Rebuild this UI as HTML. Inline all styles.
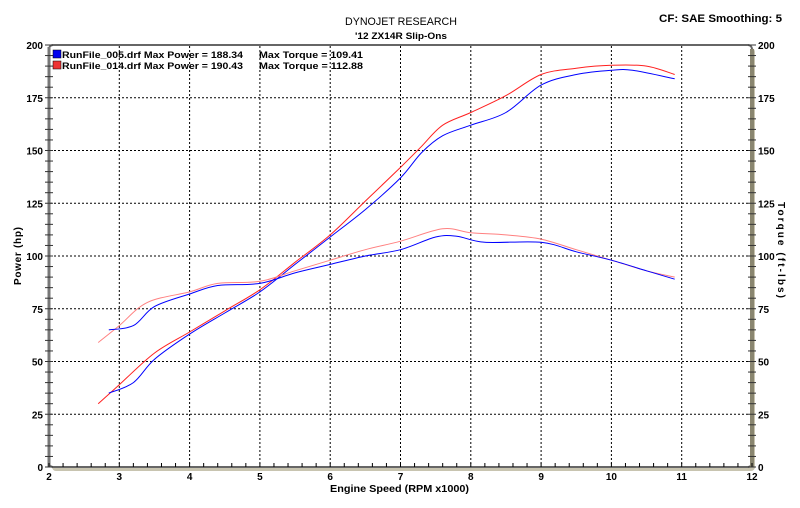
<!DOCTYPE html>
<html><head><meta charset="utf-8"><style>
body{margin:0;background:#fff;width:800px;height:503px;overflow:hidden}
svg text{font-family:"Liberation Sans","DejaVu Sans",sans-serif}
</style></head><body>
<svg id="s" width="800" height="503" xmlns="http://www.w3.org/2000/svg">
<text x="345" y="25" font-size="11" textLength="112" lengthAdjust="spacingAndGlyphs">DYNOJET RESEARCH</text>
<text x="355" y="39" font-size="9.5" font-weight="bold" textLength="92" lengthAdjust="spacingAndGlyphs">'12 ZX14R Slip-Ons</text>
<text x="659" y="22" font-size="11" font-weight="bold" textLength="123" lengthAdjust="spacingAndGlyphs">CF: SAE  Smoothing: 5</text>
<rect x="52" y="48" width="703" height="423" rx="4" fill="#c8c4b0"/>
<rect x="49" y="45" width="703" height="422" rx="4" fill="#fff" stroke="#666" stroke-width="2"/>
<g id="g"></g>
<rect x="53" y="50" width="8" height="8" fill="#0000ee" stroke="#000" stroke-width="0.5"/>
<rect x="53" y="61" width="8" height="8" fill="#ee3333" stroke="#000" stroke-width="0.5"/>
<text x="62" y="58" font-size="9.5" font-weight="bold" textLength="181" lengthAdjust="spacingAndGlyphs">RunFile_005.drf Max Power = 188.34</text>
<text x="259" y="58" font-size="9.5" font-weight="bold" textLength="104" lengthAdjust="spacingAndGlyphs">Max Torque = 109.41</text>
<text x="62" y="69" font-size="9.5" font-weight="bold" textLength="181" lengthAdjust="spacingAndGlyphs">RunFile_014.drf Max Power = 190.43</text>
<text x="259" y="69" font-size="9.5" font-weight="bold" textLength="104" lengthAdjust="spacingAndGlyphs">Max Torque = 112.88</text>
<text x="330" y="492" font-size="10" font-weight="bold" textLength="139" lengthAdjust="spacingAndGlyphs">Engine Speed (RPM x1000)</text>
<text transform="translate(21,285) rotate(-90)" font-size="10" font-weight="bold" textLength="58" lengthAdjust="spacing">Power (hp)</text>
<text transform="translate(778,202) rotate(90)" font-size="10" font-weight="bold" textLength="96" lengthAdjust="spacing">Torque (ft-lbs)</text>
</svg>
<script>
var g=document.getElementById('g'),h='';
function X(r){return 49+70.3*(r-2)}function Y(v){return 467-2.11*v}
for(var i=3;i<12;i++)h+='<line x1="'+X(i)+'" y1="46" x2="'+X(i)+'" y2="466" stroke="#000" stroke-width="1" stroke-dasharray="2,2"/>';
for(var v=25;v<200;v+=25)h+='<line x1="50" y1="'+Y(v)+'" x2="751" y2="'+Y(v)+'" stroke="#000" stroke-width="1" stroke-dasharray="2,2"/>';
h+='<line x1="49" y1="47" x2="49" y2="467" stroke="#777" stroke-width="3"/><line x1="752" y1="49" x2="752" y2="467" stroke="#8a8670" stroke-width="4"/>';
for(var i=2;i<=12;i+=0.2){var x=X(i);h+='<line x1="'+x+'" y1="463" x2="'+x+'" y2="467" stroke="#000"/>';}
for(var v=0;v<=200;v+=5){var y=Y(v);h+='<line x1="45" y1="'+y+'" x2="53" y2="'+y+'" stroke="#333"/><line x1="748" y1="'+y+'" x2="756" y2="'+y+'" stroke="#333"/>';}
for(var i=2;i<=12;i++)h+='<text x="'+X(i)+'" y="480" font-size="10" font-weight="bold" text-anchor="middle">'+i+'</text>';
for(var v=0;v<=200;v+=25){h+='<text x="43" y="'+(Y(v)+4)+'" font-size="10" font-weight="bold" text-anchor="end">'+v+'</text><text x="758" y="'+(Y(v)+4)+'" font-size="10" font-weight="bold">'+v+'</text>';}
function P(a,c){var p=a.map(function(q){return [X(q[0]),Y(q[1])]});var d='M'+p[0][0].toFixed(1)+','+p[0][1].toFixed(1);
for(var k=0;k<p.length-1;k++){var p0=p[k?k-1:0],p1=p[k],p2=p[k+1],p3=p[k+2<p.length?k+2:k+1];
var c1=[p1[0]+(p2[0]-p0[0])/6,p1[1]+(p2[1]-p0[1])/6],c2=[p2[0]-(p3[0]-p1[0])/6,p2[1]-(p3[1]-p1[1])/6];
d+='C'+c1[0].toFixed(1)+','+c1[1].toFixed(1)+' '+c2[0].toFixed(1)+','+c2[1].toFixed(1)+' '+p2[0].toFixed(1)+','+p2[1].toFixed(1);}
h+='<path d="'+d+'" fill="none" stroke="'+c+'" stroke-width="1"/>';}
var RED='#ff2020',BLUE='#0000ff';
P([[2.7,30],[3,39],[3.5,54],[4,64],[4.5,74],[5,84],[5.5,97],[6,110],[6.5,126],[7,142],[7.3,152],[7.6,162],[8,168],[8.5,176],[9,186],[9.5,189],[10,190.4],[10.5,190],[10.9,186]],RED);
P([[2.85,35],[3.2,40],[3.5,51],[4,63],[4.5,73],[5,83],[5.5,96],[6,109],[6.5,122],[7,137],[7.3,149],[7.6,157],[8,162],[8.5,168],[9,181],[9.5,186],[10,188],[10.3,188],[10.9,184]],BLUE);
P([[2.7,59],[3,67],[3.4,78],[4,83],[4.4,87],[5,88],[5.5,93],[6,98],[6.5,103],[7,107],[7.6,112.9],[8,111],[8.5,110],[9,108],[9.5,103],[10,98],[10.5,93],[10.9,90]],'#ff8080');
P([[2.85,65],[3.2,67],[3.5,76],[4,82],[4.4,86],[5,87],[5.5,92],[6,96],[6.5,100],[7,103],[7.5,109],[7.8,109.4],[8.2,106.5],[9,106.5],[9.5,102],[10,98],[10.5,93],[10.9,89]],BLUE);
g.innerHTML=h;
</script>
</body></html>
